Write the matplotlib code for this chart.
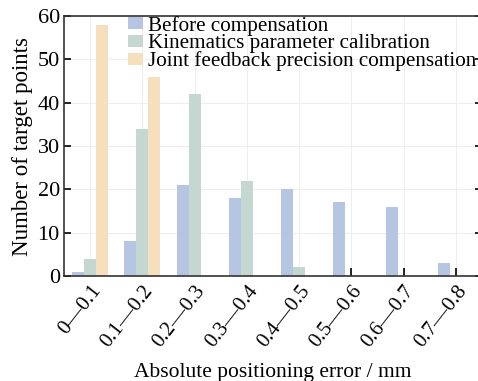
import numpy as np
import matplotlib.pyplot as plt

categories = ['0—0.1', '0.1—0.2', '0.2—0.3', '0.3—0.4',
              '0.4—0.5', '0.5—0.6', '0.6—0.7', '0.7—0.8']
before = [1, 8, 21, 18, 20, 17, 16, 3]
kinematics = [4, 34, 42, 22, 2, 0, 0, 0]
joint = [58, 46, 0, 0, 0, 0, 0, 0]

plt.rcParams['font.family'] = ['Liberation Serif', 'DejaVu Serif']

fig = plt.figure(figsize=(4.78, 3.81), dpi=100)
ax = fig.add_axes([64 / 478, 1 - 276 / 381, 418 / 478, 260 / 381])

x = np.arange(len(categories))
w = 0.23
ax.bar(x - w, before, w, color='#b6c6e2', label='Before compensation', zorder=2)
ax.bar(x, kinematics, w, color='#c5d7d1', label='Kinematics parameter calibration', zorder=2)
ax.bar(x + w, joint, w, color='#f5dfbd', label='Joint feedback precision compensation', zorder=2)

ax.set_xlim(-0.5, 7.5)
ax.set_ylim(0, 60)
ax.set_yticks(range(0, 61, 10))
ax.set_xticks(x)
ax.set_xticklabels(categories, rotation=52, ha='right', rotation_mode='anchor', fontsize=15)
ax.tick_params(axis='y', labelsize=16, direction='in', right=True, length=5, width=1.2, pad=3)
ax.tick_params(axis='x', direction='in', length=6, width=1.2, pad=4)
ax.grid(True, color='#eeeeee', linewidth=0.8, zorder=0)
for s in ax.spines.values():
    s.set_linewidth(1.2)
    s.set_color('#333333')

ax.set_xlabel('Absolute positioning error / mm', fontsize=15.5, labelpad=9)
ax.set_ylabel('Number of target points', fontsize=16.5, labelpad=3)

ax.legend(loc='upper left', bbox_to_anchor=(0.152, 1.0), frameon=False, fontsize=15.2,
          handlelength=0.75, handleheight=0.5, handletextpad=0.2, labelspacing=-0.08,
          borderaxespad=0, borderpad=0)

plt.savefig('out.png', dpi=100)
